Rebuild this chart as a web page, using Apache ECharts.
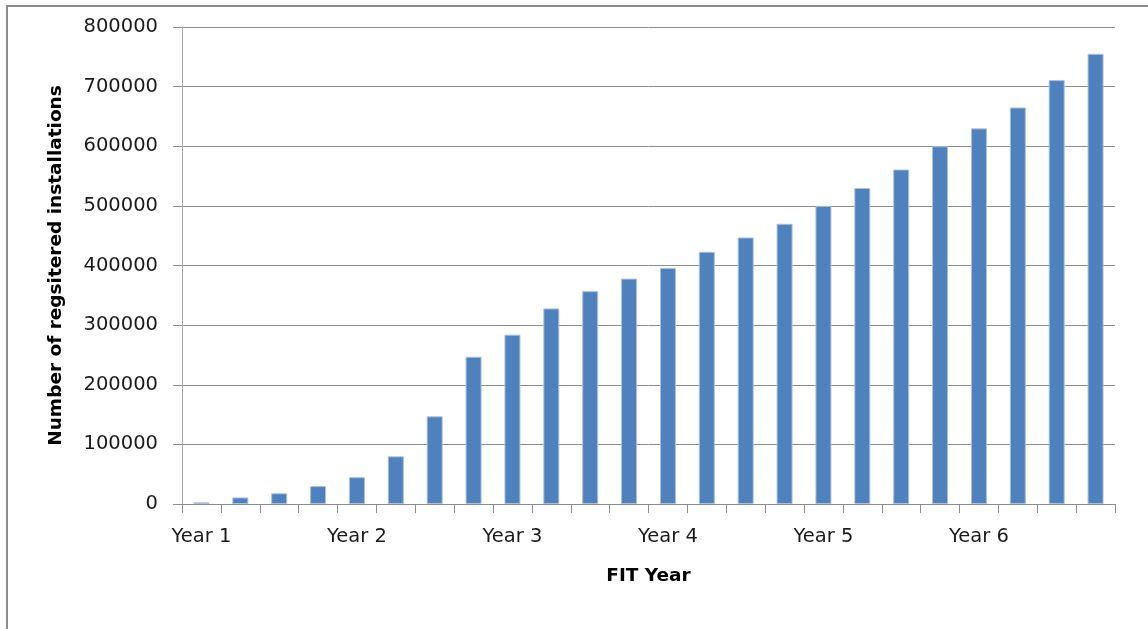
<!DOCTYPE html>
<html>
<head>
<meta charset="utf-8">
<title>FIT registered installations</title>
<script src="https://cdn.jsdelivr.net/npm/echarts@6/dist/echarts.min.js"></script>
<style>
  html, body { margin: 0; padding: 0; background: #ffffff; }
  #chart { width: 1148px; height: 629px; }
</style>
</head>
<body>
<div id="chart"></div>
<script>
// Quarterly periods of the FIT scheme (four per year)
const quarters = [
  'Y1 Q1', 'Y1 Q2', 'Y1 Q3', 'Y1 Q4',
  'Y2 Q1', 'Y2 Q2', 'Y2 Q3', 'Y2 Q4',
  'Y3 Q1', 'Y3 Q2', 'Y3 Q3', 'Y3 Q4',
  'Y4 Q1', 'Y4 Q2', 'Y4 Q3', 'Y4 Q4',
  'Y5 Q1', 'Y5 Q2', 'Y5 Q3', 'Y5 Q4',
  'Y6 Q1', 'Y6 Q2', 'Y6 Q3', 'Y6 Q4'
];

// Year labels shown under the first quarter of each year
const yearLabels = ['Year 1', 'Year 2', 'Year 3', 'Year 4', 'Year 5', 'Year 6'];

// Cumulative number of registered installations
const installations = [
  2800, 11000, 18000, 30000, 45000, 80000, 147000, 247000,
  284000, 328000, 357000, 378000, 396000, 423000, 447000, 470000,
  500000, 530000, 561000, 600000, 630000, 665000, 711000, 755000
];

const FONT = '"DejaVu Sans", sans-serif';

const chart = echarts.init(document.getElementById('chart'), null, { renderer: 'canvas' });

chart.setOption({
  backgroundColor: '#ffffff',
  animation: false,
  grid: { left: 182, right: 33, top: 27, bottom: 125, containLabel: false },
  graphic: [
    {
      type: 'polyline',
      silent: true,
      shape: { points: [[7, 629], [7, 6], [1148, 6]] },
      style: { stroke: '#8c8c8c', lineWidth: 2, fill: null }
    }
  ],
  xAxis: {
    type: 'category',
    data: quarters,
    boundaryGap: true,
    name: 'FIT Year',
    nameLocation: 'middle',
    nameGap: 63,
    nameTextStyle: { fontFamily: FONT, fontSize: 18.5, fontWeight: 'bold', color: '#000000' },
    axisLine: { show: true, lineStyle: { color: '#8c8c8c', width: 1 } },
    axisTick: { show: true, interval: 0, length: 9, inside: false, lineStyle: { color: '#8c8c8c' } },
    axisLabel: {
      interval: 0,
      margin: 23,
      fontFamily: FONT,
      fontSize: 19.5,
      color: '#1a1a1a',
      formatter: (v, i) => (i % 4 === 0 ? yearLabels[i / 4] : '')
    },
    splitLine: { show: false }
  },
  yAxis: {
    type: 'value',
    min: 0,
    max: 800000,
    interval: 100000,
    name: 'Number of regsitered installations',
    nameLocation: 'middle',
    nameRotate: 90,
    nameGap: 116,
    nameTextStyle: { fontFamily: FONT, fontSize: 18.5, fontWeight: 'bold', color: '#000000' },
    axisLine: { show: true, lineStyle: { color: '#a6a6a6', width: 1 } },
    axisTick: { show: true, length: 9, lineStyle: { color: '#8c8c8c' } },
    axisLabel: {
      margin: 24,
      fontFamily: FONT,
      fontSize: 19.5,
      color: '#1a1a1a',
      formatter: (v) => String(v)
    },
    splitLine: { show: true, lineStyle: { color: '#8c8c8c', width: 1 } }
  },
  series: [
    {
      type: 'bar',
      data: installations,
      barWidth: 16,
      itemStyle: { color: '#4f81bd', borderColor: '#a9c1de', borderWidth: 1 }
    }
  ]
});
</script>
</body>
</html>
